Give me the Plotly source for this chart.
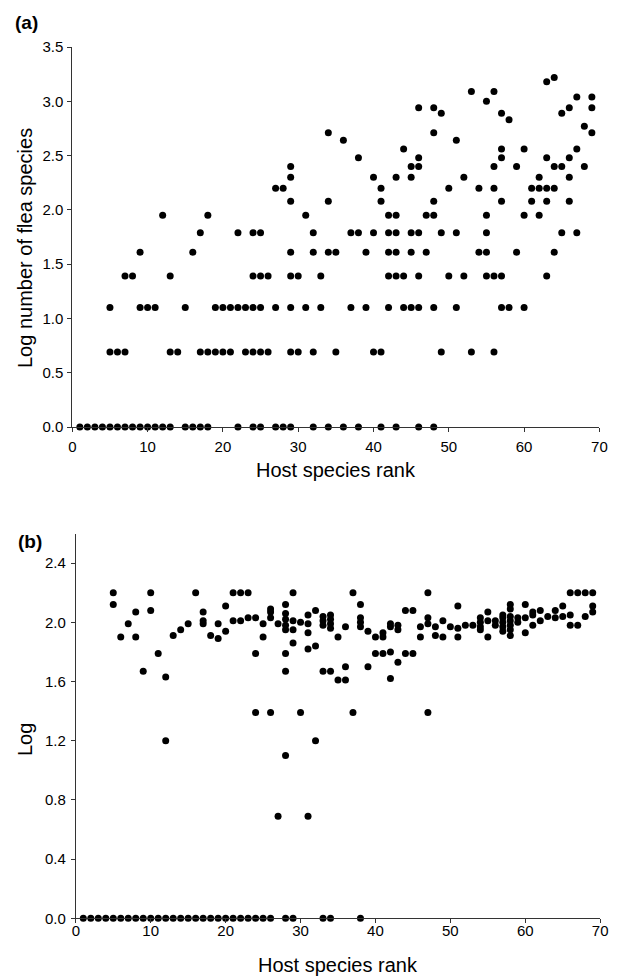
import plotly.graph_objects as go

# ---------------- Panel (a): log number of flea species vs host rank ----------------
A_LEVELS = [0.00, 0.69, 1.10, 1.39, 1.61, 1.79, 1.95, 2.08, 2.20, 2.30, 2.40, 2.48,
            2.56, 2.64, 2.71, 2.77, 2.83, 2.89, 2.94, 3.00, 3.04, 3.09, 3.18, 3.22]
A_RANKS = [
    [1, 2, 3, 4, 5, 6, 7, 8, 9, 10, 11, 12, 13, 15, 16, 17, 18, 22, 24, 25, 27, 28, 29,
     32, 34, 36, 38, 41, 43, 46, 48],
    [5, 6, 7, 13, 14, 17, 18, 19, 20, 21, 23, 24, 25, 26, 29, 30, 32, 35, 40, 41, 49, 53, 56],
    [5, 9, 10, 11, 15, 19, 20, 21, 22, 23, 24, 25, 27, 29, 31, 33, 37, 39, 42, 44, 45, 46,
     48, 51, 57, 58, 60],
    [7, 8, 13, 24, 25, 26, 29, 30, 33, 42, 43, 44, 46, 50, 52, 55, 56, 57, 63],
    [9, 16, 29, 32, 34, 35, 39, 42, 43, 45, 47, 54, 55, 59, 64],
    [17, 22, 24, 25, 32, 37, 38, 40, 42, 43, 45, 46, 49, 51, 55, 65, 67],
    [12, 18, 31, 42, 43, 47, 48, 55, 60, 62],
    [29, 34, 41, 48, 57, 61, 63, 66],
    [27, 28, 41, 50, 54, 56, 61, 62, 63, 64],
    [29, 40, 43, 45, 52, 62, 66],
    [29, 45, 46, 56, 59, 64, 65, 68],
    [38, 46, 57, 63, 66],
    [44, 57, 60, 67],
    [36, 51],
    [34, 48, 69],
    [68],
    [58],
    [49, 57, 65],
    [46, 48, 66, 69],
    [55],
    [67, 69],
    [53, 56],
    [63],
    [64],
]

# ---------------- Panel (b): Log value per host rank ----------------
B_VALUES = {
    1: [0], 2: [0], 3: [0], 4: [0],
    5: [2.20, 2.12, 0], 6: [1.90, 0], 7: [1.99, 0], 8: [2.07, 1.90, 0],
    9: [1.67, 0], 10: [2.20, 2.08, 0], 11: [1.79, 0], 12: [1.63, 1.20, 0],
    13: [1.91, 0], 14: [1.95, 0], 15: [1.99, 0], 16: [2.20, 0],
    17: [2.07, 2.01, 1.99, 0], 18: [1.91, 0], 19: [1.99, 1.89, 0], 20: [2.11, 1.94, 0],
    21: [2.20, 2.01, 0], 22: [2.20, 2.01, 0], 23: [2.20, 2.03, 0], 24: [2.03, 1.79, 1.39, 0],
    25: [1.99, 1.90, 0], 26: [2.09, 2.07, 2.03, 1.39, 0], 27: [1.99, 0.69],
    28: [2.12, 2.06, 2.02, 1.98, 1.95, 1.79, 1.67, 1.10, 0],
    29: [2.20, 2.01, 1.95, 1.86, 0], 30: [2.00, 1.39],
    31: [2.05, 1.99, 1.93, 1.82, 0.69], 32: [2.08, 1.84, 1.20],
    33: [2.04, 2.01, 1.98, 1.67, 0], 34: [2.05, 2.02, 1.99, 1.96, 1.67, 0],
    35: [1.90, 1.61], 36: [1.97, 1.70, 1.61], 37: [2.20, 1.39],
    38: [2.12, 2.03, 2.00, 1.97, 0], 39: [1.94, 1.70], 40: [1.90, 1.79],
    41: [1.93, 1.90, 1.79], 42: [1.99, 1.97, 1.80, 1.62], 43: [1.98, 1.95, 1.73],
    44: [2.08, 1.79], 45: [2.08, 1.79], 46: [1.97, 1.90], 47: [2.20, 2.03, 1.99, 1.39],
    48: [1.97, 1.91], 49: [2.01, 1.90], 50: [1.97], 51: [2.11, 1.96, 1.90],
    52: [1.98], 53: [1.98], 54: [2.03, 2.00, 1.97, 1.95], 55: [2.07, 2.01, 1.90],
    56: [2.01, 1.98], 57: [2.05, 2.03, 2.00, 1.97, 1.94],
    58: [2.12, 2.09, 2.04, 2.01, 1.98, 1.95, 1.91], 59: [2.03, 2.00],
    60: [2.12, 2.03, 1.93], 61: [2.07, 2.05, 1.98], 62: [2.08, 2.01], 63: [2.04],
    64: [2.08, 2.03], 65: [2.11, 2.04], 66: [2.20, 2.05, 1.98], 67: [2.20, 1.98],
    68: [2.20, 2.04], 69: [2.20, 2.11, 2.07],
}

X_TICKS = [0, 10, 20, 30, 40, 50, 60, 70]
A_Y_TICKS = [0.0, 0.5, 1.0, 1.5, 2.0, 2.5, 3.0, 3.5]
B_Y_TICKS = [0.0, 0.4, 0.8, 1.2, 1.6, 2.0, 2.4]

xa, ya = [], []
for lvl, ranks in zip(A_LEVELS, A_RANKS):
    for r in ranks:
        xa.append(r)
        ya.append(lvl)

xb, yb = [], []
for r, vals in B_VALUES.items():
    for v in vals:
        xb.append(r)
        yb.append(v)

# page has an 8px body margin; the figure starts at (8, 8) and runs to the window edge
OFF = 8
W, H = 617 - OFF, 978 - OFF
def fx(p):
    return (p - OFF) / W
def fy(p):
    return 1 - (p - OFF) / H

FONT = "Liberation Sans, Arial, Helvetica, sans-serif"
LINE = "#333333"

fig = go.Figure()
fig.add_trace(go.Scatter(x=xa, y=ya, mode="markers", xaxis="x", yaxis="y",
                         marker=dict(color="black", size=7, line=dict(width=0)),
                         cliponaxis=False, showlegend=False))
fig.add_trace(go.Scatter(x=xb, y=yb, mode="markers", xaxis="x2", yaxis="y2",
                         marker=dict(color="black", size=7, line=dict(width=0)),
                         cliponaxis=False, showlegend=False))

common = dict(showline=True, linecolor=LINE, linewidth=1, ticks="outside", ticklen=4,
              tickcolor=LINE, showgrid=False, zeroline=False, automargin=False,
              tickfont=dict(size=15, color="black", family=FONT))

fig.update_layout(
    template="none",
    width=W, height=H, autosize=False,
    margin=dict(l=0, r=0, t=0, b=0, pad=0),
    paper_bgcolor="white", plot_bgcolor="white",
    font=dict(family=FONT, color="black"),
    xaxis=dict(domain=[fx(72.3), fx(599.4)], anchor="y", range=[0, 70],
               tickvals=X_TICKS, ticklabelstandoff=2, **common),
    yaxis=dict(domain=[fy(427), fy(47)], anchor="x", range=[0, 3.5],
               tickvals=A_Y_TICKS, tickformat=".1f", ticklabelstandoff=1, **common),
    xaxis2=dict(domain=[fx(75.8), fx(600.2)], anchor="y2", range=[0, 70],
                tickvals=X_TICKS, ticklabelstandoff=-5, **common),
    yaxis2=dict(domain=[fy(918.3), fy(533.5)], anchor="x2", range=[0, 2.6],
                tickvals=B_Y_TICKS, tickformat=".1f", ticklabelstandoff=2, **common),
)

ann = [
    dict(text="<b>(a)</b>", x=fx(13), y=fy(23), xanchor="left", yanchor="middle",
         font=dict(size=19)),
    dict(text="<b>(b)</b>", x=fx(16), y=fy(541), xanchor="left", yanchor="middle",
         font=dict(size=19)),
    dict(text="Log number of flea species", x=fx(25), y=fy(248), textangle=-90,
         xanchor="center", yanchor="middle", font=dict(size=20)),
    dict(text="Host species rank", x=fx(336), y=fy(470), xanchor="center",
         yanchor="middle", font=dict(size=20)),
    dict(text="Log", x=fx(25), y=fy(740), textangle=-90, xanchor="center",
         yanchor="middle", font=dict(size=20)),
    dict(text="Host species rank", x=fx(338), y=fy(965), xanchor="center",
         yanchor="middle", font=dict(size=20)),
]
for a in ann:
    a.update(xref="paper", yref="paper", showarrow=False)
fig.update_layout(annotations=ann)

fig.write_html("out.html")
